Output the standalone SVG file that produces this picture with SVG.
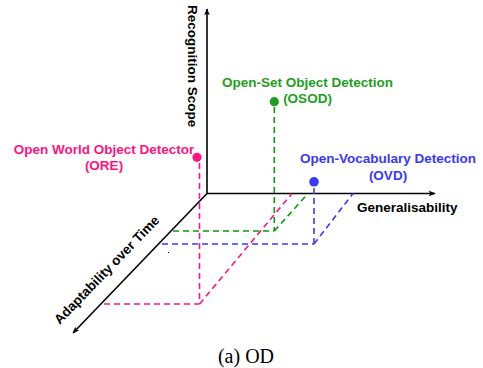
<svg xmlns="http://www.w3.org/2000/svg" width="483" height="368" viewBox="0 0 483 368">
<style>
.lbl{font-family:"Liberation Sans",Arial,sans-serif;font-weight:bold;font-size:13.5px}
.axis{stroke:#000;stroke-width:1.6;fill:none}
.dash{stroke-width:1.6;stroke-dasharray:6,4;fill:none}
.pink{fill:#FF1480}
.green{fill:#1E9E1E}
.blue{fill:#3838FF}
</style>
<defs>
<marker id="arr" viewBox="0 0 10 10" refX="9" refY="5" markerWidth="7" markerHeight="7" markerUnits="userSpaceOnUse" orient="auto">
<path d="M0,1 L10,5 L0,9 L2.5,5 z" fill="#000"/>
</marker>
</defs>
<rect width="483" height="368" fill="#fff"/>
<g id="connectors">
<line class="axis" x1="207" y1="193.5" x2="207" y2="9" marker-end="url(#arr)"/>
<line class="axis" x1="207" y1="193.5" x2="435" y2="193.5" marker-end="url(#arr)"/>
<line class="axis" x1="207" y1="193.5" x2="73" y2="333" marker-end="url(#arr)"/>
<g stroke="#FF1480" class="dash">
<line x1="199.5" y1="163" x2="199.5" y2="304"/>
<line x1="104" y1="304" x2="199.5" y2="304"/>
<line x1="199.5" y1="304" x2="292" y2="193.5"/>
</g>
<g stroke="#0A9A0A" class="dash">
<line x1="274.3" y1="107" x2="274.3" y2="231"/>
<line x1="173" y1="231" x2="274.3" y2="231"/>
<line x1="274.3" y1="231" x2="308" y2="193.5"/>
</g>
<g stroke="#3838FF" class="dash">
<line x1="314" y1="188" x2="314" y2="244"/>
<line x1="162" y1="244" x2="314" y2="244"/>
<line x1="314" y1="244" x2="353" y2="193.5"/>
</g>
</g>
<g id="axis-labels">
<text class="lbl" transform="translate(187.5,5) rotate(90)" fill="#000">Recognition Scope</text>
<text class="lbl" x="357" y="211.5" fill="#000">Generalisability</text>
<text class="lbl" transform="translate(110,273) rotate(-46)" text-anchor="middle" fill="#000">Adaptability over Time</text>
</g>
<g id="ore">
<circle cx="197" cy="157.3" r="4.6" class="pink"/>
<text class="lbl pink" x="104" y="153.5" text-anchor="middle">Open World Object Detector</text>
<text class="lbl pink" x="104" y="170" text-anchor="middle">(ORE)</text>
</g>
<g id="osod">
<circle cx="274.3" cy="101.7" r="4.6" class="green"/>
<text class="lbl green" x="307.5" y="87" text-anchor="middle">Open-Set Object Detection</text>
<text class="lbl green" x="307.5" y="103" text-anchor="middle">(OSOD)</text>
</g>
<g id="ovd">
<circle cx="314" cy="181.8" r="4.8" class="blue"/>
<text class="lbl blue" x="388" y="163.3" text-anchor="middle">Open-Vocabulary Detection</text>
<text class="lbl blue" x="388" y="179.5" text-anchor="middle">(OVD)</text>
</g>
<rect x="168" y="252" width="1" height="1" fill="#000"/>
<text x="246" y="363" text-anchor="middle" font-family="'Liberation Serif','Times New Roman',serif" font-size="20" fill="#000">(a) OD</text>
</svg>
